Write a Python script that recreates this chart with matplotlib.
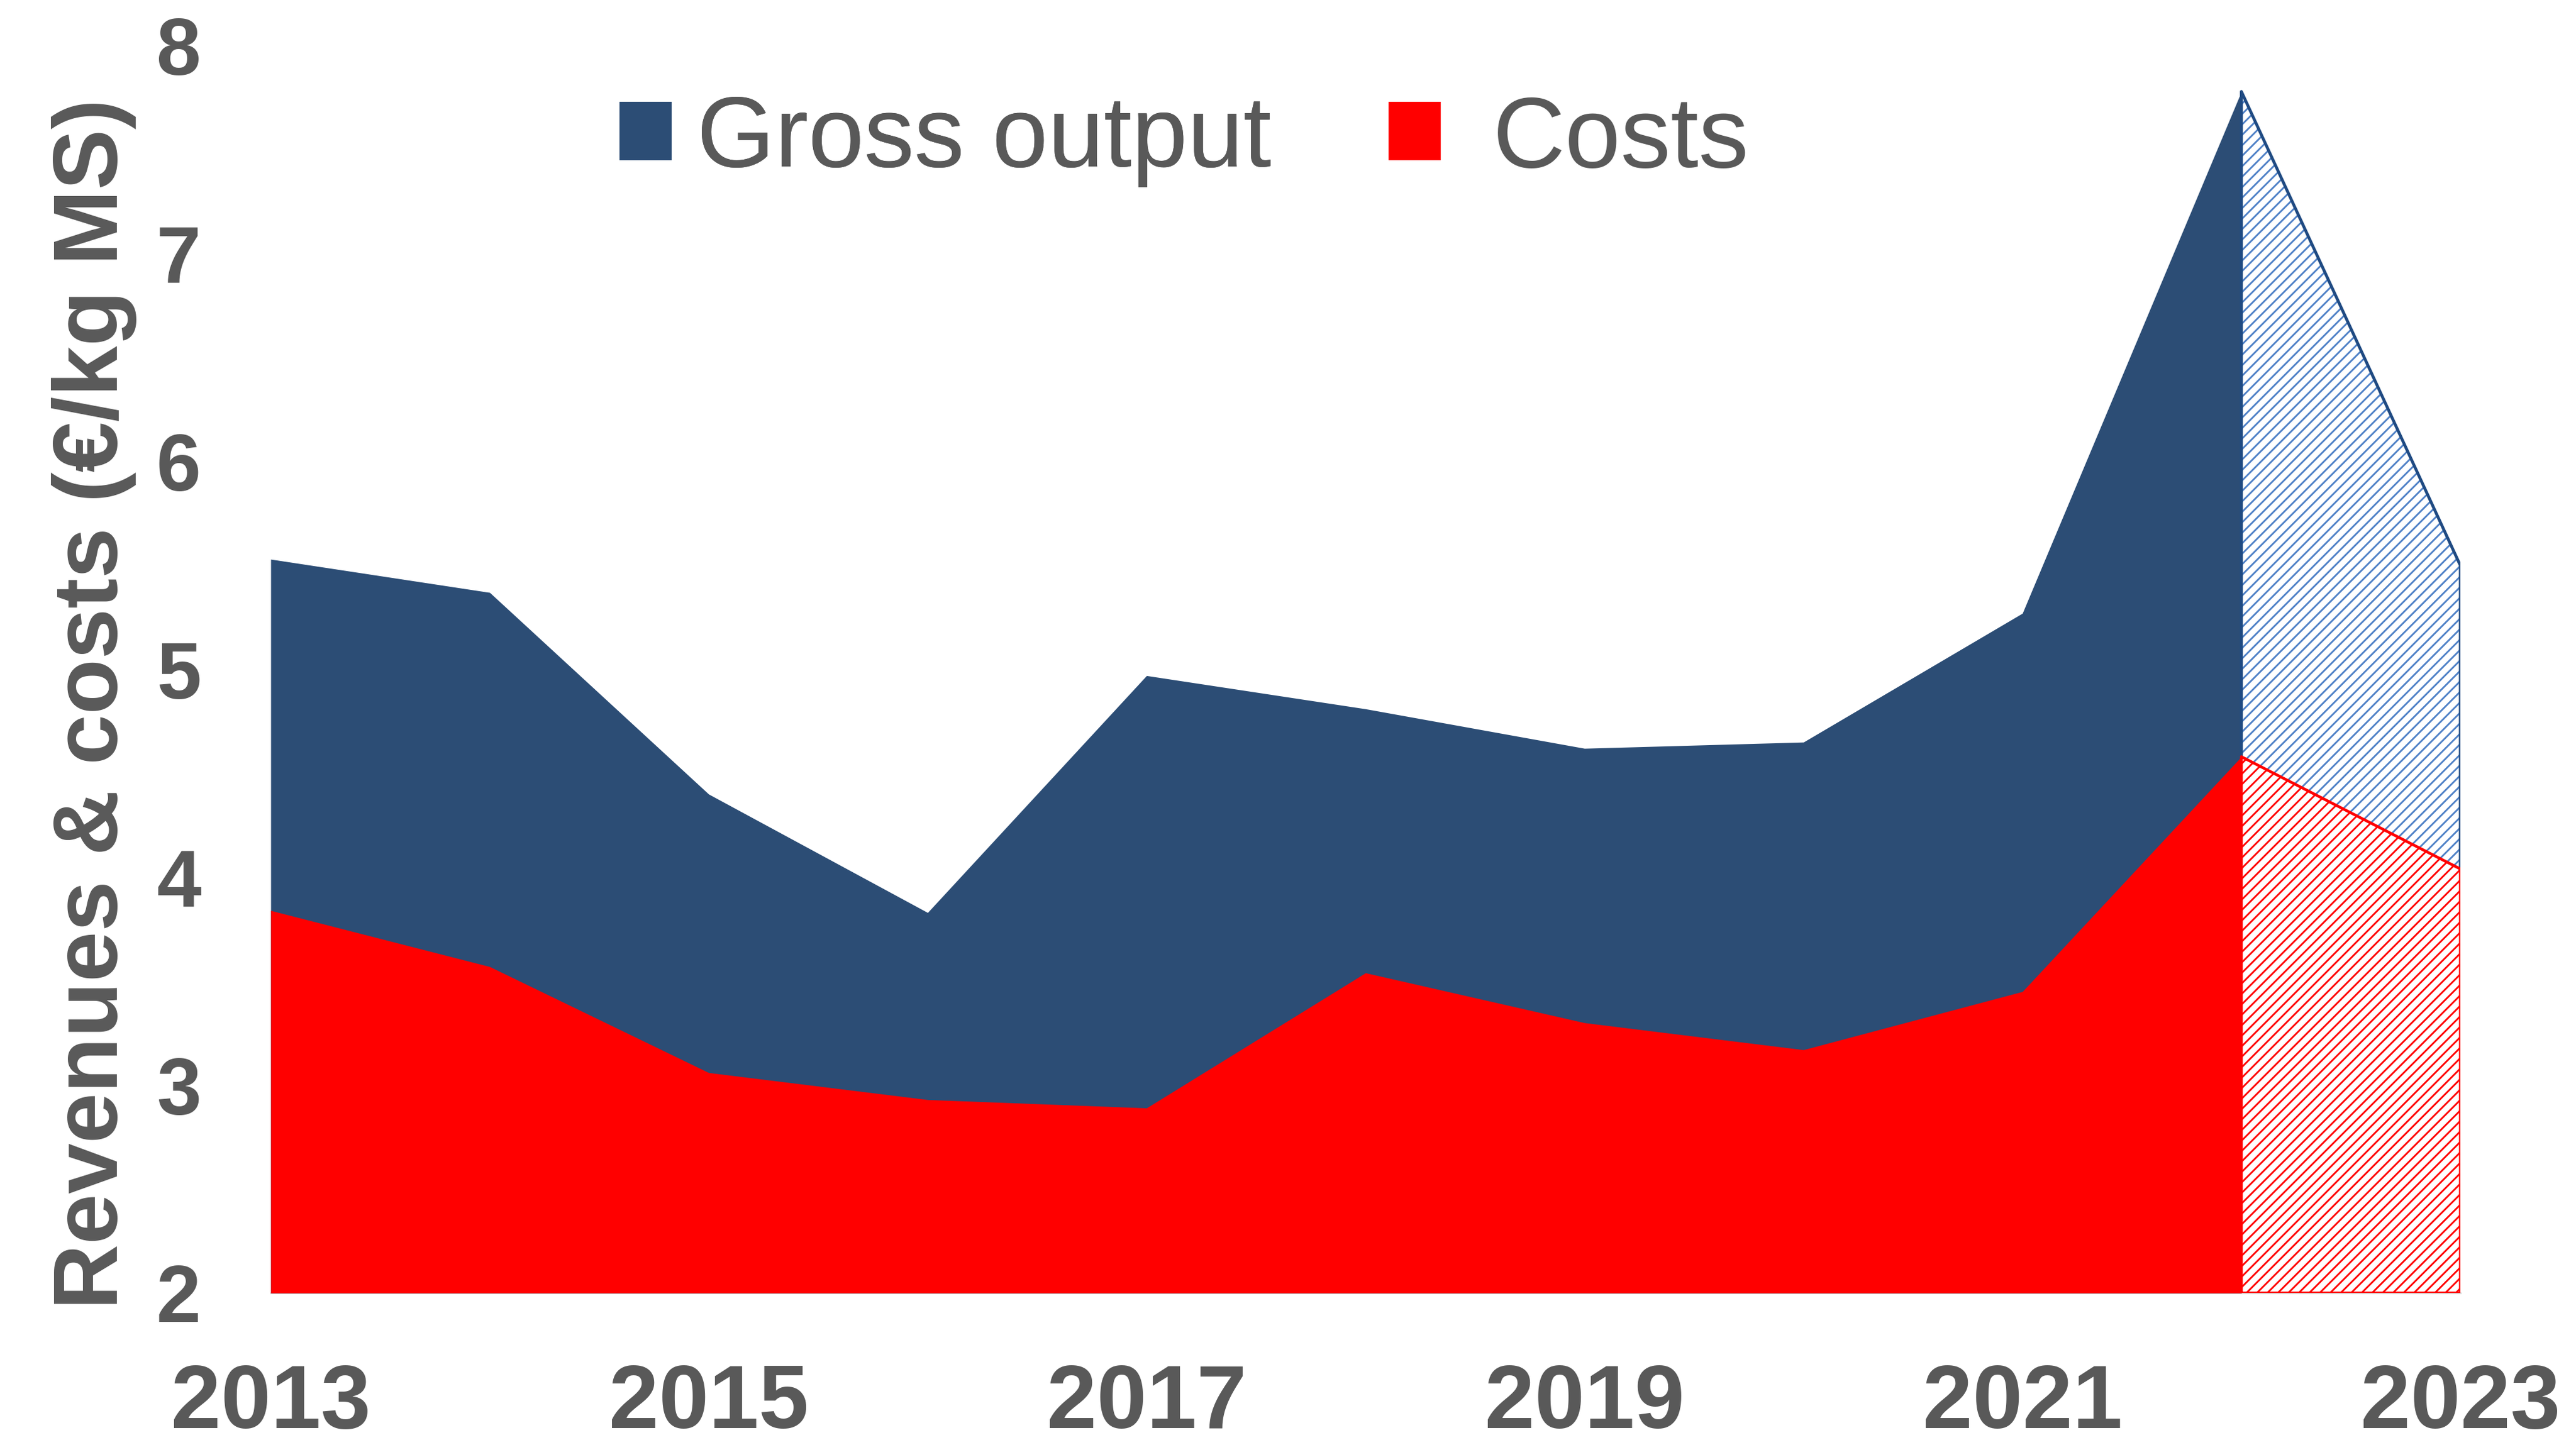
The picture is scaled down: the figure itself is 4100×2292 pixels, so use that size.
import matplotlib.pyplot as plt
from matplotlib.patches import Patch

plt.rcParams['font.family'] = ['Liberation Sans', 'DejaVu Sans']
plt.rcParams['hatch.linewidth'] = 2.0

years = [2013, 2014, 2015, 2016, 2017, 2018, 2019, 2020, 2021, 2022, 2023]
gross_output = [5.53, 5.37, 4.40, 3.83, 4.97, 4.81, 4.62, 4.65, 5.27, 7.78, 5.50]
costs = [3.84, 3.57, 3.06, 2.93, 2.89, 3.54, 3.30, 3.17, 3.45, 4.58, 4.04]
n_actual = 10  # 2013-2022 measured, 2022-2023 forecast (hatched)

x_ticks = [2013, 2015, 2017, 2019, 2021, 2023]
y_ticks = [2, 3, 4, 5, 6, 7, 8]

blue = '#2c4d75'
blue_hatch = '#4f81c7'
blue_edge = '#1f4a82'
red = '#ff0000'
grey = '#595959'

fig = plt.figure(figsize=(41, 22.92), dpi=100)
ax = fig.add_axes([0.1051, 0.1021, 0.85, 0.8661])

# solid part
xa = years[:n_actual]
ax.fill_between(xa, 2, gross_output[:n_actual], color=blue, linewidth=0)
ax.fill_between(xa, 2, costs[:n_actual], color=red, linewidth=0)

# forecast part, hatched
xf = years[n_actual - 1:]
gf = gross_output[n_actual - 1:]
cf = costs[n_actual - 1:]
ax.fill_between(xf, cf, gf, facecolor='white', edgecolor=blue_hatch,
                hatch='//', linewidth=0)
ax.plot([xf[0]] + xf + [xf[-1]], [cf[0]] + gf + [cf[-1]], color=blue_edge, lw=3.4)
ax.fill_between(xf, 2, cf, facecolor='white', edgecolor=red,
                hatch='//', linewidth=0)
ax.plot([xf[0]] + xf + [xf[-1], xf[0]], [2] + cf + [2, 2], color=red, lw=3.2)

ax.set_xlim(2013, 2023)
ax.set_ylim(2, 8)
ax.set_xticks(x_ticks)
ax.set_yticks(y_ticks)
ax.tick_params(axis='x', length=0, pad=80, labelsize=103, labelcolor=grey)
ax.tick_params(axis='y', length=0, pad=80, labelsize=92, labelcolor=grey)
for lab in ax.get_xticklabels() + ax.get_yticklabels():
    lab.set_fontweight('bold')

for s in ['top', 'right', 'left']:
    ax.spines[s].set_visible(False)
ax.spines['bottom'].set_color('#d9d9d9')
ax.spines['bottom'].set_linewidth(2)
ax.spines['bottom'].set_zorder(0)

fig.text(150 / 4100, 1 - 1120 / 2292, 'Revenues & costs (€/kg MS)', rotation=90,
         ha='center', va='center', fontsize=104, fontweight='bold', color=grey)

# two legend entries placed separately (different gaps in the original)
leg_y = 1 - 224 / 2292
leg1 = fig.legend(handles=[Patch(facecolor=blue, edgecolor='none', label='Gross output')],
                  loc='center left', bbox_to_anchor=(986 / 4100, leg_y),
                  frameon=False, fontsize=115, handlelength=0.52, handleheight=0.52,
                  handletextpad=0.25, borderpad=0, borderaxespad=0)
leg2 = fig.legend(handles=[Patch(facecolor=red, edgecolor='none', label='Costs')],
                  loc='center left', bbox_to_anchor=(2210 / 4100, leg_y),
                  frameon=False, fontsize=115, handlelength=0.52, handleheight=0.52,
                  handletextpad=0.52, borderpad=0, borderaxespad=0)
fig.add_artist(leg1)
for leg in (leg1, leg2):
    for t in leg.get_texts():
        t.set_color(grey)

plt.savefig('out.png', dpi=100)
